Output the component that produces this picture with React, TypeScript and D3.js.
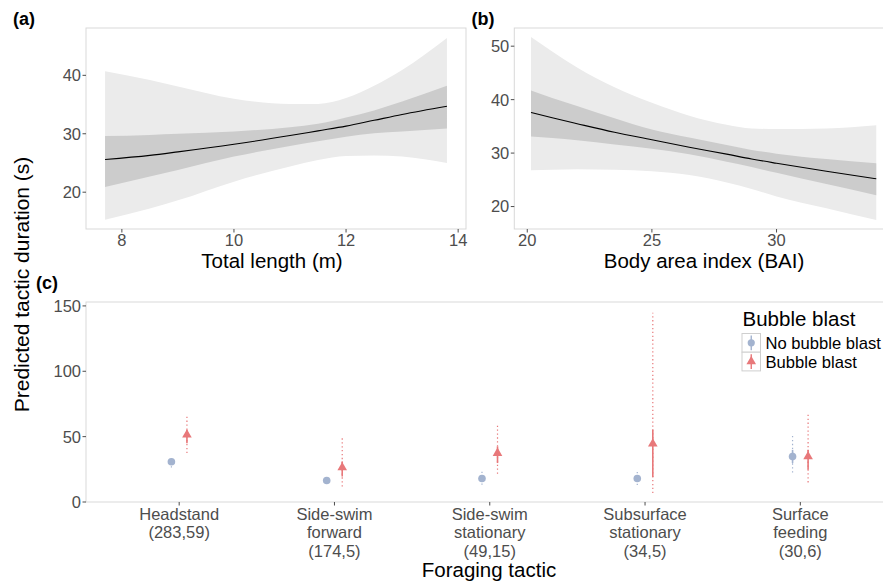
import React from "react";
import * as d3 from "d3";

// ---------- Panel (a): Total length ----------
const aX = [7.7, 8.5, 9, 10, 11, 11.5, 12, 12.5, 13, 13.8];
const aFit = [25.6, 26.3, 26.9, 28.2, 29.7, 30.5, 31.3, 32.3, 33.3, 34.7];
const aInnerLo = [20.9, 22.7, 23.8, 26.1, 27.9, 28.7, 29.5, 30.1, 30.4, 30.9];
const aInnerHi = [29.6, 29.8, 30.0, 30.4, 31.1, 31.7, 32.8, 34.0, 35.5, 38.2];
const aOuterLo = [15.3, 17.2, 18.6, 21.8, 24.4, 25.5, 26.2, 26.3, 26.1, 25.0];
const aOuterHi = [40.7, 39.2, 38.1, 36.0, 35.1, 35.1, 36.1, 38.2, 40.9, 46.4];
const aXTicks = [8, 10, 12, 14];
const aYTicks = [20, 30, 40];

// ---------- Panel (b): Body area index ----------
const bX = [20.15, 21, 22, 23.5, 25, 26.5, 28, 29, 30, 32, 34];
const bFit = [37.6, 36.6, 35.5, 33.9, 32.5, 31.1, 29.8, 28.9, 28.1, 26.6, 25.2];
const bInnerLo = [33.1, 32.8, 32.4, 31.6, 30.8, 29.8, 28.4, 27.4, 26.3, 24.2, 22.1];
const bInnerHi = [41.7, 40.3, 38.8, 36.5, 34.4, 32.9, 31.5, 30.6, 29.9, 28.9, 28.1];
const bOuterLo = [26.8, 26.9, 27.0, 26.9, 26.6, 25.9, 24.5, 23.3, 21.9, 19.7, 17.5];
const bOuterHi = [51.7, 49.0, 46.0, 42.3, 39.4, 37.0, 35.3, 34.6, 34.5, 34.6, 35.2];
const bXTicks = [20, 25, 30];
const bYTicks = [20, 30, 40, 50];

// ---------- Panel (c): Foraging tactic ----------
const tactics = ["Headstand", "Side-swim forward", "Side-swim stationary", "Subsurface stationary", "Surface feeding"];
const tacticLabels = [
  ["Headstand", "(283,59)"],
  ["Side-swim", "forward", "(174,5)"],
  ["Side-swim", "stationary", "(49,15)"],
  ["Subsurface", "stationary", "(34,5)"],
  ["Surface", "feeding", "(30,6)"],
];
const noBubbleEst = [30.8, 16.5, 18.0, 18.0, 34.8];
const noBubbleInnerLo = [29.0, 15.5, 16.5, 16.5, 29.8];
const noBubbleInnerHi = [32.5, 17.5, 19.5, 19.5, 39.9];
const noBubbleOuterLo = [26.4, 14.5, 13.2, 13.0, 22.6];
const noBubbleOuterHi = [33.6, 18.8, 23.4, 23.4, 51.4];
const bubbleEst = [51.4, 26.4, 37.4, 44.5, 34.8];
const bubbleInnerLo = [45.0, 19.5, 29.8, 19.1, 24.7];
const bubbleInnerHi = [55.2, 31.0, 42.5, 55.2, 39.9];
const bubbleOuterLo = [37.4, 11.9, 21.6, 6.9, 15.0];
const bubbleOuterHi = [66.4, 50.6, 60.3, 144.7, 67.9];
const cYTicks = [0, 50, 100, 150];
const legendLabels = ["No bubble blast", "Bubble blast"];

const FONT = "'Liberation Sans', Arial, Helvetica, sans-serif";
const BLUE = "#a3b3cf";
const RED = "#e8787a";
const BORDER = "#d9d9d9";
const TICK = "#4d4d4d";
const TXT = "#4d4d4d";

type Box = { l: number; r: number; t: number; b: number };

function Frame({ box }: { box: Box }) {
  return (
    <rect x={box.l} y={box.t} width={box.r - box.l} height={box.b - box.t} fill="none" stroke={BORDER} strokeWidth={1} />
  );
}

function RibbonPanel({
  box, xs, fit, innerLo, innerHi, outerLo, outerHi, xDomain, yDomain, xTicks, yTicks, xTitle, titleX,
}: any) {
  const x = d3.scaleLinear().domain(xDomain).range([box.l, box.r]);
  const y = d3.scaleLinear().domain(yDomain).range([box.b, box.t]);
  const idx = xs.map((_: number, i: number) => i);
  const area = (lo: number[], hi: number[]) =>
    d3.area<number>().x((i) => x(xs[i])).y0((i) => y(lo[i])).y1((i) => y(hi[i])).curve(d3.curveMonotoneX)(idx) || "";
  const line = d3.line<number>().x((i) => x(xs[i])).y((i) => y(fit[i])).curve(d3.curveMonotoneX)(idx) || "";
  return (
    <g>
      <path d={area(outerLo, outerHi)} fill="#ebebeb" />
      <path d={area(innerLo, innerHi)} fill="#cccccc" />
      <path d={line} fill="none" stroke="#000" strokeWidth={1.1} />
      <Frame box={box} />
      {yTicks.map((t: number) => (
        <g key={"y" + t}>
          <line x1={box.l - 3.5} x2={box.l} y1={y(t)} y2={y(t)} stroke={TICK} strokeWidth={1} />
          <text x={box.l - 5} y={y(t)} dy="0.36em" textAnchor="end" fontSize={16.5} fill={TXT} fontFamily={FONT}>{t}</text>
        </g>
      ))}
      {xTicks.map((t: number) => (
        <g key={"x" + t}>
          <line x1={x(t)} x2={x(t)} y1={box.b} y2={box.b + 3.5} stroke={TICK} strokeWidth={1} />
          <text x={x(t)} y={box.b + 17} textAnchor="middle" fontSize={16.5} fill={TXT} fontFamily={FONT}>{t}</text>
        </g>
      ))}
      <text x={titleX} y={268} textAnchor="middle" fontSize={20.5} fill="#000" fontFamily={FONT}>{xTitle}</text>
    </g>
  );
}

function PanelC() {
  const box: Box = { l: 86, r: 893.5, t: 302, b: 502 };
  const x = d3.scalePoint<string>().domain(tactics).range([box.l, box.r]).padding(0.6);
  const y = d3.scaleLinear().domain([0, 153]).range([box.b, box.t]);
  const dodge = x.step() * 0.05;
  const tri = d3.symbol().type(d3.symbolTriangle).size(40)() || "";
  const series = [
    { est: noBubbleEst, iLo: noBubbleInnerLo, iHi: noBubbleInnerHi, oLo: noBubbleOuterLo, oHi: noBubbleOuterHi, color: BLUE, off: -dodge, shape: "circle" },
    { est: bubbleEst, iLo: bubbleInnerLo, iHi: bubbleInnerHi, oLo: bubbleOuterLo, oHi: bubbleOuterHi, color: RED, off: dodge, shape: "tri" },
  ];
  return (
    <g>
      <Frame box={box} />
      {series.map((s, si) => (
        <g key={si}>
          {tactics.map((t, i) => {
            const cx = (x(t) as number) + s.off;
            return (
              <g key={t}>
                <line x1={cx} x2={cx} y1={y(s.oLo[i])} y2={y(s.oHi[i])} stroke={s.color} strokeWidth={1.2} strokeDasharray="1.3,2.6" />
                <line x1={cx} x2={cx} y1={y(s.iLo[i])} y2={y(s.iHi[i])} stroke={s.color} strokeWidth={1.6} />
                {s.shape === "circle" ? (
                  <circle cx={cx} cy={y(s.est[i])} r={3.8} fill={s.color} />
                ) : (
                  <path d={tri} transform={`translate(${cx},${y(s.est[i])})`} fill={s.color} />
                )}
              </g>
            );
          })}
        </g>
      ))}
      {cYTicks.map((t) => (
        <g key={"cy" + t}>
          <line x1={box.l - 3.5} x2={box.l} y1={y(t)} y2={y(t)} stroke={TICK} strokeWidth={1} />
          <text x={box.l - 5} y={y(t)} dy="0.36em" textAnchor="end" fontSize={16.5} fill={TXT} fontFamily={FONT}>{t}</text>
        </g>
      ))}
      {tactics.map((t, i) => (
        <g key={"cx" + t}>
          <line x1={x(t)} x2={x(t)} y1={box.b} y2={box.b + 3.5} stroke={TICK} strokeWidth={1} />
          <text x={x(t)} y={520} textAnchor="middle" fontSize={16.5} fill={TXT} fontFamily={FONT}>
            {tacticLabels[i].map((ln, k) => (
              <tspan key={k} x={x(t)} dy={k === 0 ? 0 : 18.3}>{ln}</tspan>
            ))}
          </text>
        </g>
      ))}
      <text x={489} y={577} textAnchor="middle" fontSize={20.5} fill="#000" fontFamily={FONT}>Foraging tactic</text>
      {/* legend */}
      <text x={742.5} y={326} fontSize={20.5} fill="#000" fontFamily={FONT}>Bubble blast</text>
      {legendLabels.map((lab, k) => {
        const ky = 333.5 + k * 18.7;
        const kx = 742;
        const s = series[k];
        return (
          <g key={lab}>
            <rect x={kx} y={ky} width={18.5} height={18.7} fill="#fff" stroke="#cfcfcf" strokeWidth={1} />
            <line x1={kx + 9.25} x2={kx + 9.25} y1={ky + 2} y2={ky + 16.7} stroke={s.color} strokeWidth={1.4} />
            {s.shape === "circle" ? (
              <circle cx={kx + 9.25} cy={ky + 9.35} r={3.6} fill={s.color} />
            ) : (
              <path d={tri} transform={`translate(${kx + 9.25},${ky + 9.35})`} fill={s.color} />
            )}
            <text x={765.5} y={ky + 9.35} dy="0.36em" fontSize={16.6} fill="#000" fontFamily={FONT}>{lab}</text>
          </g>
        );
      })}
    </g>
  );
}

export default function App() {
  const boxA: Box = { l: 86, r: 466, t: 28, b: 229 };
  const boxB: Box = { l: 514.3, r: 893.7, t: 28, b: 229 };
  return (
    <svg width={883} height={583} style={{ position: "absolute", left: 0, top: 0, background: "#fff" }} fontFamily={FONT}>
      <rect x={0} y={0} width={883} height={583} fill="#fff" />
      <RibbonPanel box={boxA} xs={aX} fit={aFit} innerLo={aInnerLo} innerHi={aInnerHi} outerLo={aOuterLo} outerHi={aOuterHi}
        xDomain={[7.36, 14.14]} yDomain={[13.7, 48.1]} xTicks={aXTicks} yTicks={aYTicks} xTitle="Total length (m)" titleX={272} />
      <RibbonPanel box={boxB} xs={bX} fit={bFit} innerLo={bInnerLo} innerHi={bInnerHi} outerLo={bOuterLo} outerHi={bOuterHi}
        xDomain={[19.48, 34.7]} yDomain={[15.8, 53.4]} xTicks={bXTicks} yTicks={bYTicks} xTitle="Body area index (BAI)" titleX={704} />
      <PanelC />
      <text x={13} y={25} fontSize={18} fontWeight="bold" fill="#000" fontFamily={FONT}>(a)</text>
      <text x={471.5} y={25} fontSize={18} fontWeight="bold" fill="#000" fontFamily={FONT}>(b)</text>
      <text x={36} y={288.5} fontSize={18} fontWeight="bold" fill="#000" fontFamily={FONT}>(c)</text>
      <text transform="translate(28.5,284.5) rotate(-90)" textAnchor="middle" fontSize={21} fill="#000" fontFamily={FONT}>
        Predicted tactic duration (s)
      </text>
    </svg>
  );
}
